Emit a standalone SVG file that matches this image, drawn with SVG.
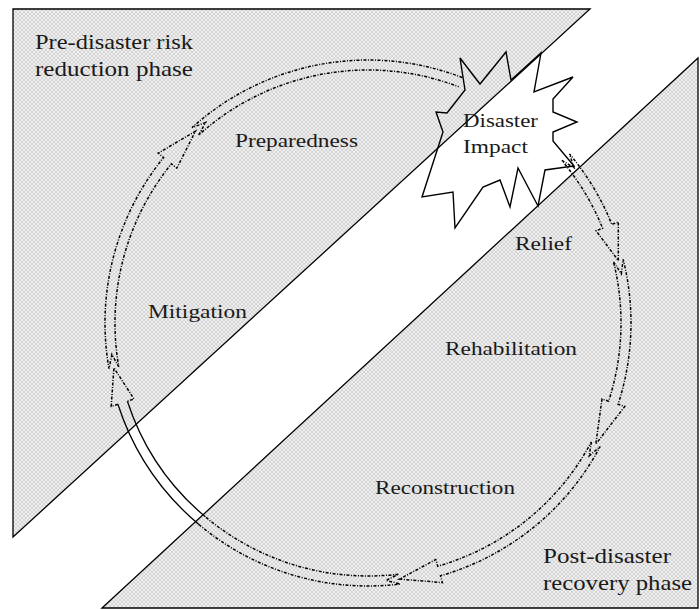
<svg xmlns="http://www.w3.org/2000/svg" width="700" height="610" viewBox="0 0 700 610">
  <defs>
    <pattern id="hatch" width="4" height="4" patternUnits="userSpaceOnUse">
      <rect width="4" height="4" fill="#f0f0f0"/>
      <path d="M0,0 L4,4 M4,0 L0,4" stroke="#c8c8c8" stroke-width="0.7"/>
    </pattern>
  </defs>
  <style>
    .region { fill: url(#hatch); stroke: #000; stroke-width: 1.3; }
    .lbl { font-family: "Liberation Serif", "Times New Roman", serif; fill: #1a1a1a; }
    .big { font-size: 21px; }
    .mid { font-size: 19px; }
    .band { fill: none; stroke: #000; stroke-width: 1.5; stroke-dasharray: 3 1.5 1 1.5; }
    .solid { fill: none; stroke: #000; stroke-width: 1.3; }
    .burst { fill: none; stroke: #000; stroke-width: 1.4; stroke-linejoin: miter; }
  </style>
  <rect width="700" height="610" fill="#fff"/>

  <g id="pre-disaster-phase">
    <polygon class="region" points="13,9 590,9 13,537"/>
    <text class="lbl big" x="35" y="49" textLength="158" lengthAdjust="spacingAndGlyphs">Pre-disaster risk</text>
    <text class="lbl big" x="35" y="76" textLength="158" lengthAdjust="spacingAndGlyphs">reduction phase</text>
  </g>

  <g id="post-disaster-phase">
    <polygon class="region" points="102,608 698,58 698,608"/>
    <text class="lbl big" x="543" y="563" textLength="128" lengthAdjust="spacingAndGlyphs">Post-disaster</text>
    <text class="lbl big" x="543" y="590" textLength="149" lengthAdjust="spacingAndGlyphs">recovery phase</text>
  </g>

  <g id="disaster-impact">
    <polygon class="burst" points="541,53 534,92 573,77 553,99 553,112 577,122 553,132 553,141 574,166 545,170 538,206 518,168 510,207 500,180 483,187 455,228 453,192 422,197 433,163 443,132 436,112 447,113 465,90 460,58 480,84 506,52 511,80"/>
    <text class="lbl mid" x="463" y="127" textLength="75" lengthAdjust="spacingAndGlyphs">Disaster</text>
    <text class="lbl mid" x="463" y="153" textLength="65" lengthAdjust="spacingAndGlyphs">Impact</text>
  </g>

  <g id="relief"><text class="lbl mid" x="515" y="250" textLength="57" lengthAdjust="spacingAndGlyphs">Relief</text></g>
  <g id="rehabilitation"><text class="lbl mid" x="445" y="355" textLength="132" lengthAdjust="spacingAndGlyphs">Rehabilitation</text></g>
  <g id="reconstruction"><text class="lbl mid" x="375" y="494" textLength="140" lengthAdjust="spacingAndGlyphs">Reconstruction</text></g>
  <g id="mitigation"><text class="lbl mid" x="148" y="318" textLength="99" lengthAdjust="spacingAndGlyphs">Mitigation</text></g>
  <g id="preparedness"><text class="lbl mid" x="235" y="147" textLength="123" lengthAdjust="spacingAndGlyphs">Preparedness</text></g>

  <g id="connectors">
    <!-- Relief arrow: burst -> Relief -->
    <path class="band" d="M561.8,160.4 L574.0,167.7 L569.5,153.9 A263,263 0 0 1 611.9,224.5 L618.3,221.9 L618.3,260.6 L596.1,230.8 L602.6,228.2 A253,253 0 0 0 561.8,160.4"/>
    <!-- Rehabilitation arrow -->
    <path class="band" d="M613.5,261.8 L621.3,273.8 L623.2,259.4 A263,263 0 0 1 618.1,404.3 L624.8,406.4 L595.8,444.1 L602.0,399.0 L608.6,401.2 A253,253 0 0 0 613.5,261.8"/>
    <!-- Reconstruction arrow -->
    <path class="band" d="M591.4,441.8 L589.2,455.9 L600.2,446.5 A263,263 0 0 1 440.5,575.8 L442.4,582.6 L399.5,579.1 L435.8,559.5 L437.7,566.2 A253,253 0 0 0 591.4,441.8"/>
    <!-- Mitigation arrow -->
    <path class="band" d="M198.9,524.5 A263,263 0 0 0 400.1,584.0 L386.0,580.4 L398.8,574.1 A253,253 0 0 1 205.4,516.8"/>
    <path class="solid" d="M198.9,524.5 A263,263 0 0 1 117.9,404.3 M205.4,516.8 A253,253 0 0 1 127.4,401.2"/>
    <path class="band" d="M117.9,404.3 L111.2,406.4 L113.9,367.8 L134.0,399.0 L127.4,401.2"/>
    <!-- Preparedness arrow -->
    <path class="band" d="M118.8,366.9 L111.9,354.5 L109.0,368.7 A263,263 0 0 1 163.6,157.5 L158.2,153.1 L195.4,131.3 L176.8,168.2 L171.4,163.8 A253,253 0 0 0 118.8,366.9"/>
    <!-- Preparedness -> Disaster Impact -->
    <path class="band" d="M462.3,77.5 A263,263 0 0 0 192.0,127.6 L205.6,122.5 L198.7,135.0 A253,253 0 0 1 458.7,86.8"/>
  </g>
</svg>
